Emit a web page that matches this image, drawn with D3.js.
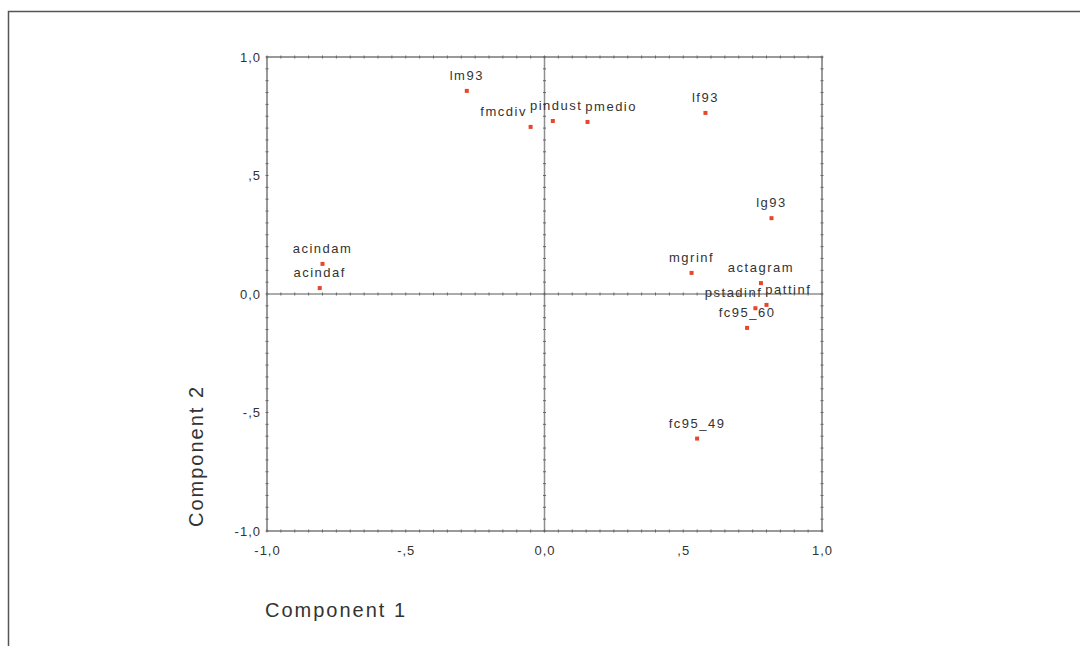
<!DOCTYPE html>
<html><head><meta charset="utf-8">
<script src="https://cdn.jsdelivr.net/npm/d3@7"></script>
<style>body{margin:0;background:#fff;}svg{display:block;}</style>
</head><body>
<svg id="c" width="1080" height="646"></svg>
<script>
const labels = ["lm93","fmcdiv","pindust","pmedio","lf93","lg93","acindam","acindaf","mgrinf","actagram","pstadinf","pattinf","fc95_60","fc95_49"];
const comp1  = [-0.28,-0.05,0.03,0.155,0.58,0.818,-0.80,-0.81,0.53,0.78,0.76,0.80,0.73,0.55];
const comp2  = [0.857,0.705,0.73,0.726,0.764,0.32,0.127,0.025,0.089,0.046,-0.06,-0.046,-0.143,-0.61];
const tickValues = [-1,-0.5,0,0.5,1];
const tickLabels = ["-1,0","-,5","0,0",",5","1,0"];

const FONT = "Liberation Sans, Arial, sans-serif";
const svg = d3.select("#c");
svg.append("rect").attr("x",8.5).attr("y",11.5).attr("width",1100).attr("height",700)
  .attr("fill","none").attr("stroke","#555").attr("stroke-width",1.5);

const x = d3.scaleLinear().domain([-1,1]).range([267,822]);
const y = d3.scaleLinear().domain([-1,1]).range([531,57]);
const minor = d3.range(-1,1.0001,0.05);
const axisCol = "#8f8f8f";
const g = svg.append("g");

// frame
g.append("rect").attr("x",x(-1)).attr("y",y(1)).attr("width",x(1)-x(-1)).attr("height",y(-1)-y(1))
  .attr("fill","none").attr("stroke",axisCol).attr("stroke-width",1.8);
// reference lines
g.append("line").attr("x1",x(0)).attr("x2",x(0)).attr("y1",y(1)).attr("y2",y(-1)).attr("stroke",axisCol).attr("stroke-width",1.5);
g.append("line").attr("x1",x(-1)).attr("x2",x(1)).attr("y1",y(0)).attr("y2",y(0)).attr("stroke",axisCol).attr("stroke-width",1.5);

// minor ticks on frame and reference lines
const tk = g.append("g").attr("stroke","#666").attr("stroke-width",1);
[y(1),y(-1),y(0)].forEach(yy=>{
  tk.selectAll(null).data(minor).enter().append("line")
    .attr("x1",d=>x(d)).attr("x2",d=>x(d)).attr("y1",yy-1.5).attr("y2",yy+1.5);
});
[x(-1),x(1),x(0)].forEach(xx=>{
  tk.selectAll(null).data(minor).enter().append("line")
    .attr("y1",d=>y(d)).attr("y2",d=>y(d)).attr("x1",xx-1.5).attr("x2",xx+1.5);
});

// axes tick labels
const xAxis = d3.axisBottom(x).tickValues(tickValues).tickSize(0).tickPadding(15)
  .tickFormat((d,i)=>tickLabels[i]);
const gx = svg.append("g").attr("transform",`translate(0,${y(-1)})`).call(xAxis);
gx.select(".domain").remove();
gx.selectAll("text").attr("font-family",FONT).attr("font-size",13).attr("letter-spacing",1).attr("fill","#333");

const yAxis = d3.axisLeft(y).tickValues(tickValues).tickSize(0).tickPadding(6)
  .tickFormat((d,i)=>tickLabels[i]);
const gy = svg.append("g").attr("transform",`translate(${x(-1)},0)`).call(yAxis);
gy.select(".domain").remove();
gy.selectAll("text").attr("font-family",FONT).attr("font-size",13).attr("letter-spacing",1).attr("fill","#333");

// axis titles
svg.append("text").attr("x",265).attr("y",617).text("Component 1")
  .attr("font-family",FONT).attr("font-size",20).attr("letter-spacing",2).attr("fill","#333");
svg.append("text").attr("transform","translate(203,456) rotate(-90)").attr("text-anchor","middle")
  .text("Component 2").attr("font-family",FONT).attr("font-size",20).attr("letter-spacing",2).attr("fill","#333");

// points
const data = labels.map((l,i)=>({l, a:comp1[i], b:comp2[i]}));
svg.append("g").selectAll("rect").data(data).enter().append("rect")
  .attr("x",d=>x(d.a)-2).attr("y",d=>y(d.b)-2).attr("width",4).attr("height",4)
  .attr("fill","#e8452c");
const txt = svg.append("g").selectAll("text").data(data).enter().append("text")
  .attr("x",d=>x(d.a)).attr("y",d=>y(d.b)-11).attr("text-anchor","middle")
  .attr("font-family",FONT).attr("font-size",13).attr("letter-spacing",1.5).attr("fill","#333")
  .text(d=>d.l);

// simple horizontal de-overlap of labels (computed, not typed)
txt.each(function(d){ const b=this.getBBox(); d.w=b.width; d.cx=x(d.a); d.by=y(d.b)-11; });
for(let it=0; it<200; it++){
  let moved=false;
  for(let i=0;i<data.length;i++) for(let j=i+1;j<data.length;j++){
    const p=data[i], q=data[j];
    if(Math.abs(p.by-q.by) >= 14) continue;
    const need=(p.w+q.w)/2+3, dist=Math.abs(p.cx-q.cx);
    if(dist<need){
      const s=(need-dist)/2, sign=(p.cx<=q.cx)?-1:1;
      p.cx+=sign*s; q.cx-=sign*s; moved=true;
    }
  }
  if(!moved) break;
}
txt.attr("x",d=>d.cx);
</script>
</body></html>
